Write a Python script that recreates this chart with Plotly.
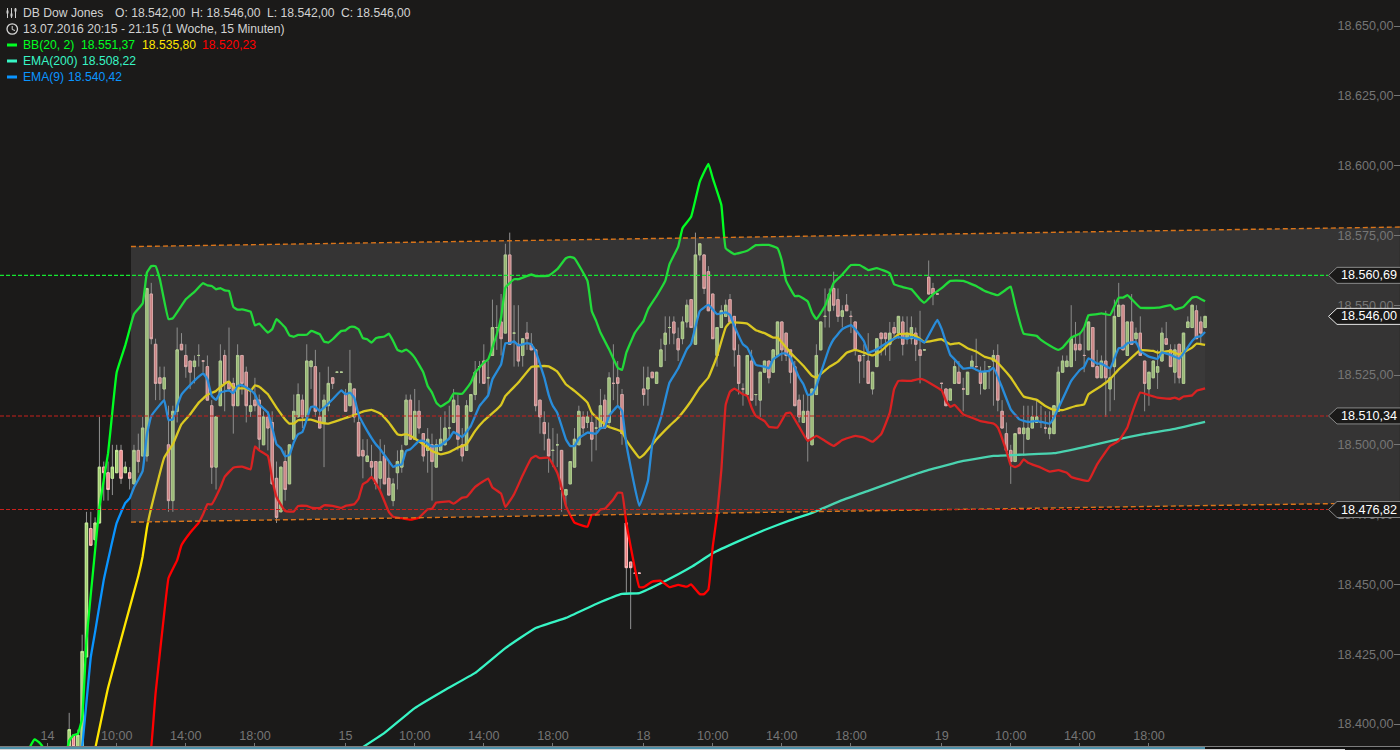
import plotly.graph_objects as go

BG = "#1b1a19"
W, H = 1400, 750

bars = list(range(5, 269))
open_ = [
18392,18396,18392,18392,18424,18470,18466,18472,18492,18490,
18488,18490,18498,18490,18490,18486,18498,18496,18496,18554,
18536,18524,18520,18500,18480,18512,18536,18532,18530,18528,
18532,18530,18528,18514,18492,18514,18532,18522,18522,18514,
18532,18526,18512,18516,18516,18500,18510,18508,18488,18476,
18494,18486,18502,18510,18516,18510,18528,18528,18510,18508,
18514,18524,18526,18526,18518,18514,18520,18508,18498,18494,
18494,18494,18488,18496,18488,18480,18490,18492,18500,18516,
18502,18512,18504,18498,18500,18492,18498,18500,18506,18508,
18514,18500,18498,18512,18518,18528,18530,18524,18532,18542,
18544,18540,18568,18540,18536,18532,18540,18536,18534,18516,
18508,18502,18498,18500,18498,18482,18486,18492,18500,18510,
18508,18508,18506,18506,18516,18508,18522,18524,18518,18472,
18458,18454,18454,18520,18520,18526,18522,18528,18536,18542,
18544,18538,18538,18544,18552,18536,18568,18568,18562,18554,
18532,18542,18546,18552,18546,18532,18520,18518,18530,18518,
18516,18526,18530,18526,18532,18544,18540,18534,18528,18516,
18508,18512,18500,18518,18534,18546,18548,18556,18552,18546,
18550,18546,18544,18532,18532,18530,18520,18528,18540,18540,
18536,18542,18540,18544,18538,18538,18540,18534,18534,18560,
18556,18554,18522,18520,18516,18522,18526,18520,18518,18528,
18528,18526,18520,18528,18530,18532,18512,18504,18498,18494,
18506,18504,18502,18506,18508,18508,18506,18504,18504,18512,
18526,18528,18528,18536,18536,18532,18534,18542,18528,18524,
18530,18520,18528,18546,18550,18532,18544,18538,18540,18530,
18520,18524,18526,18530,18538,18534,18526,18536,18522,18542,
18542,18548,18544,18542]
high = [
18404,18396,18398,18432,18476,18476,18474,18510,18494,18494,
18500,18500,18500,18494,18492,18500,18504,18510,18556,18558,
18538,18528,18528,18514,18514,18542,18540,18536,18530,18532,
18536,18530,18532,18516,18510,18536,18534,18542,18524,18536,
18532,18528,18520,18524,18518,18512,18512,18512,18494,18492,
18498,18500,18518,18522,18518,18536,18530,18534,18526,18518,
18528,18524,18526,18526,18520,18534,18520,18512,18502,18502,
18500,18494,18502,18500,18494,18488,18498,18500,18518,18518,
18520,18516,18504,18506,18504,18502,18510,18512,18514,18520,
18518,18506,18516,18518,18530,18530,18536,18530,18552,18550,
18554,18572,18576,18550,18550,18538,18544,18540,18534,18516,
18512,18508,18506,18504,18498,18484,18494,18506,18514,18512,
18512,18512,18510,18520,18518,18526,18536,18530,18520,18472,
18458,18454,18454,18528,18528,18526,18526,18538,18546,18546,
18546,18542,18546,18552,18552,18576,18572,18568,18564,18554,
18542,18550,18552,18554,18546,18536,18522,18532,18534,18518,
18526,18530,18530,18534,18544,18544,18540,18534,18530,18518,
18518,18518,18520,18536,18544,18556,18556,18562,18556,18550,
18554,18548,18544,18532,18536,18540,18526,18538,18540,18540,
18544,18544,18546,18546,18546,18546,18542,18548,18534,18566,
18558,18554,18522,18520,18520,18530,18530,18524,18526,18532,
18538,18528,18530,18528,18534,18536,18516,18508,18500,18504,
18506,18514,18514,18514,18516,18514,18512,18512,18514,18528,
18532,18532,18550,18544,18540,18542,18544,18542,18534,18532,
18548,18528,18552,18558,18550,18544,18554,18542,18546,18530,
18526,18530,18534,18542,18544,18536,18536,18536,18540,18546,
18550,18550,18546,18546]
low = [
18392,18392,18392,18392,18424,18464,18464,18472,18480,18480,
18482,18490,18486,18490,18484,18486,18490,18496,18494,18536,
18516,18516,18516,18476,18476,18508,18534,18524,18520,18522,
18528,18526,18516,18486,18484,18514,18512,18520,18504,18514,
18518,18508,18510,18512,18498,18500,18498,18486,18472,18476,
18480,18486,18502,18510,18506,18510,18520,18510,18506,18492,
18512,18520,18526,18526,18512,18514,18508,18496,18488,18494,
18488,18484,18484,18486,18482,18478,18484,18490,18500,18502,
18502,18504,18494,18490,18480,18492,18498,18500,18502,18508,
18498,18494,18498,18512,18516,18522,18522,18518,18532,18534,
18532,18540,18536,18528,18528,18528,18534,18534,18512,18504,
18498,18490,18492,18492,18476,18478,18486,18492,18500,18504,
18506,18494,18498,18506,18506,18506,18516,18514,18500,18447,
18434,18454,18454,18514,18514,18524,18522,18528,18530,18536,
18536,18530,18536,18542,18542,18536,18566,18554,18548,18538,
18528,18542,18546,18544,18528,18518,18514,18518,18516,18514,
18510,18526,18522,18526,18532,18530,18530,18522,18514,18508,
18508,18494,18500,18518,18534,18542,18542,18548,18544,18542,
18548,18540,18532,18522,18524,18522,18518,18528,18532,18532,
18530,18538,18538,18532,18536,18536,18530,18522,18534,18554,
18550,18554,18520,18514,18516,18522,18522,18512,18518,18528,
18528,18518,18520,18520,18514,18512,18506,18496,18486,18494,
18504,18496,18502,18506,18508,18506,18504,18502,18504,18512,
18526,18528,18528,18530,18534,18526,18534,18528,18524,18524,
18510,18512,18516,18546,18534,18532,18536,18536,18532,18512,
18514,18524,18520,18530,18536,18528,18522,18522,18522,18542,
18542,18538,18536,18542]
close = [
18398,18392,18396,18426,18472,18464,18472,18492,18490,18484,
18492,18498,18488,18492,18488,18498,18494,18506,18556,18538,
18522,18522,18524,18480,18512,18534,18534,18528,18526,18530,
18532,18530,18516,18492,18510,18530,18522,18520,18514,18532,
18522,18514,18514,18514,18502,18510,18506,18486,18474,18492,
18484,18500,18512,18518,18510,18530,18530,18512,18506,18516,
18522,18522,18526,18526,18512,18522,18510,18496,18496,18496,
18492,18486,18494,18486,18482,18486,18494,18498,18516,18502,
18512,18506,18496,18502,18494,18500,18502,18506,18506,18516,
18502,18496,18514,18518,18526,18528,18522,18524,18542,18542,
18538,18568,18536,18540,18530,18538,18538,18534,18514,18510,
18504,18496,18498,18500,18484,18484,18494,18502,18512,18506,
18510,18502,18506,18514,18506,18524,18522,18522,18504,18456,
18456,18454,18454,18518,18524,18524,18526,18534,18540,18542,
18540,18534,18544,18550,18542,18568,18572,18556,18548,18538,
18542,18548,18550,18544,18534,18522,18520,18532,18516,18518,
18526,18530,18524,18534,18544,18534,18532,18526,18514,18510,
18512,18502,18520,18532,18544,18546,18554,18550,18546,18548,
18548,18546,18534,18530,18532,18522,18526,18538,18538,18538,
18540,18540,18546,18536,18540,18542,18536,18532,18534,18554,
18554,18554,18522,18514,18520,18528,18522,18520,18526,18530,
18528,18522,18526,18528,18532,18516,18506,18498,18494,18504,
18504,18506,18506,18510,18510,18508,18506,18506,18514,18526,
18530,18530,18538,18534,18534,18532,18544,18528,18524,18530,
18524,18524,18546,18550,18534,18544,18536,18540,18532,18522,
18526,18530,18528,18540,18536,18528,18534,18524,18540,18544,
18550,18538,18540,18546]

ema200_bars = [72,78,85,92,99,106,113,120,127,133,137,143,149,154,160,166,172,177,184,190,197,204,212,219,226,233,240,247,254,261,268]
ema200_vals = [18390.7,18396.8,18405.7,18412.2,18418.3,18427.2,18434.4,18438,18443,18446.6,18446.9,18451.2,18456.2,18461.2,18465.5,18469.5,18473,18475.6,18480.2,18483.5,18487.4,18491,18494.2,18496,18496.5,18497,18499.2,18501.7,18503.9,18505.7,18508.2]

ema9_bars = [7,8,10,11,13,16,18,19,20,22,23,24,26,27,28,29,30,31,33,35,36,37,38,39,40,42,43,44,45,47,48,49,51,52,53,54,55,56,57,58,59,60,61,62,63,64,66,68,69,70,71,72,74,76,77,79,80,81,
82,83,84,86,87,89,91,93,94,96,98,100,102,103,105,106,107,108,109,111,112,113,115,116,117,118,120,121,122,123,125,127,128,129,130,132,133,134,137,139,140,142,144,
146,148,149,151,153,155,157,158,159,161,162,164,166,167,168,170,171,172,174,175,176,177,178,181,182,184,186,187,189,190,192,195,197,199,200,202,203,206,
207,209,210,212,214,216,218,219,221,223,225,227,229,232,233,237,239,240,241,243,244,246,248,249,250,252,253,255,257,258,260,262,265,266,267,268]
ema9_vals = [18385,18392,18424,18433,18451.6,18472,18479.2,18480.8,18484.7,18490.6,18503.8,18510.3,18514.3,18516,18508.9,18509.1,18513.9,18518,18521.4,18524.4,18525.6,18523.5,18517.5,18516.1,18518.7,18519.5,18518.5,18521.1,18521.4,18519.6,18518.1,18514.5,18511.5,18506.2,18500.2,18498.8,18495.9,18496.4,18500.8,18503.8,18504.6,18509.1,18513.6,18513.6,18512.1,18513.3,18516.3,18519.5,18518.1,18518.7,18516.9,18510.9,18505,18500.2,18498.4,18494.2,18492.1,18492.7,
18493,18497.8,18498.4,18501.4,18501.4,18499.4,18499.8,18502.3,18504.6,18502.8,18506.8,18513.9,18517.7,18523.5,18528.8,18536.4,18536.4,18537,18535.6,18536.4,18536,18533.4,18524.1,18518,18513.9,18511.5,18502,18499.6,18499.6,18502.3,18504.4,18504,18505.9,18506.2,18510.3,18513.9,18512.1,18500.2,18478.1,18487.1,18500.2,18509.7,18522.3,
18527.3,18534.2,18536.2,18547.9,18550.1,18546.8,18547.4,18546.5,18542.6,18536,18534.8,18528.6,18528,18527.4,18530.6,18532.7,18532.7,18531.2,18524.1,18521.7,18517.9,18518.1,18521.1,18534.8,18537.8,18541.4,18542.9,18541.4,18537.2,18533,18534.2,18537.2,18538.6,18538,18538.6,18537.6,18536.6,18544.7,
18541.5,18532.2,18530.6,18527.3,18527.6,18526.2,18526.5,18527.6,18520.5,18512.7,18509.1,18508.2,18508.6,18507.6,18509.7,18522.9,18526.8,18527.9,18531,18529.1,18529.1,18527.4,18534.6,18534.8,18536.4,18536.8,18533.6,18531.6,18530.8,18533.1,18532.2,18530.9,18537.2,18538.6,18538.9,18540.4]

bb_up_bars = [-5,-4,-3,-2,-1,0,4,5,6,7,8,9,11,12,14,15,16,18,19,20,22,23,24,25,26,28,29,32,34,36,37,38,39,40,41,42,43,44,45,47,48,49,51,52,53,55,56,57,58,60,61,63,64,65,66,68,69,70,71,72,73,74,75,76,78,79,80,81,
82,83,84,85,87,88,89,90,91,93,94,96,98,99,101,102,104,105,106,108,109,112,113,116,118,120,121,122,125,126,127,128,130,132,133,134,136,138,139,141,143,144,146,147,149,151,153,154,156,157,159,162,164,167,169,170,171,173,174,176,177,178,180,182,184,186,188,190,192,195,196,198,200,202,203,205,
207,209,212,215,217,220,222,223,224,226,229,230,232,234,235,237,239,240,241,243,244,246,248,249,250,253,257,260,261,263,265,266,268]
bb_up_vals = [18388,18392,18394.5,18393.5,18391.5,18388,18388,18394,18396,18396.5,18402,18430,18462.3,18477.7,18497,18512,18526,18535.7,18541.4,18546.8,18550.6,18561.7,18564,18564,18559.3,18545,18545.3,18552.1,18554.8,18557.9,18557.1,18556.9,18555.7,18556.1,18555.3,18555.1,18549.4,18548.4,18548.5,18547.7,18542.8,18543.4,18540.2,18541.4,18545,18542,18539.2,18538.7,18539.4,18539.4,18540.8,18539.6,18537,18536.6,18537.8,18540.8,18541,18542.2,18542.2,18541.4,18538.2,18537.8,18536.6,18538.2,18538.8,18539.8,18537.2,18534,
18533.4,18534.1,18533,18531.2,18525.9,18521.1,18518.7,18515.1,18513.7,18515.7,18518.4,18518.3,18522.3,18525.9,18529.4,18530.6,18539.6,18545.6,18556.3,18559.3,18559.3,18561,18560.4,18560.6,18562.9,18566.8,18567.3,18566.8,18558.7,18547.9,18544.4,18540.2,18534.2,18527.6,18526.8,18533,18540.2,18544.4,18548.5,18553.3,18558.7,18564.7,18571,18577.6,18581.7,18594.2,18600.6,18595.5,18585.9,18570.4,18568.3,18569.5,18571.5,18571.6,18570.4,18566,18558.7,18553.3,18553.3,18551.3,18547.3,18545,18549.7,18558,18561,18564.4,18564.4,18562.6,18563.3,18561.4,18557.5,18556.5,18555.7,18552.1,18550.9,18553.9,
18556.1,18558.7,18558.7,18556.9,18555.1,18553.6,18555.7,18556.7,18550.3,18539.8,18539,18537.6,18535.6,18534,18534.8,18538.4,18539.8,18542,18546.4,18546.8,18547.1,18546.5,18552.7,18552.7,18553.6,18549.1,18549.1,18550,18548.5,18549.4,18552.7,18553,18551.4]

bb_mid_bars = [11,14,18,21,22,23,24,27,29,31,33,35,37,39,41,42,43,44,46,47,48,49,51,53,55,56,57,58,61,63,65,68,71,73,75,77,79,81,
82,83,85,87,89,91,93,95,97,99,101,104,105,106,109,112,113,116,118,120,122,125,126,128,130,133,134,137,138,141,144,146,149,151,153,155,157,158,162,164,166,168,169,172,175,177,178,181,183,185,187,189,191,193,195,197,199,201,203,
207,209,211,213,215,217,219,221,223,226,229,231,233,235,238,240,241,244,246,248,250,253,256,257,260,262,265,266,268]
bb_mid_vals = [18391,18413,18436,18453,18460,18470.3,18477.5,18495.4,18500.2,18507.4,18510.9,18515.1,18517.9,18519.3,18521.9,18522.6,18520.5,18520.2,18520.2,18519.3,18521.3,18520.8,18518.1,18513.3,18509.1,18507.6,18507.6,18508.8,18509,18508,18507.6,18509.1,18510.6,18511.9,18512.5,18511.2,18508,18503.8,
18503.5,18503.8,18502.3,18500.2,18497.8,18496.6,18497.4,18499,18500.2,18505,18508.6,18512.7,18514.3,18517.5,18522.3,18527.9,18528.1,18528.1,18526.2,18521.7,18519.3,18515.1,18511.5,18508.6,18506.4,18504.7,18501.6,18495.4,18496.4,18502,18506.8,18509.7,18515.7,18520.5,18524.1,18531.8,18542,18543.8,18543.4,18541,18540,18538.4,18538.4,18533,18528.3,18524.7,18524.1,18527.9,18529.8,18533,18534,18533,18532,18533.6,18536.6,18539.6,18539.8,18539,18536.8,
18537.8,18536,18536.4,18534.6,18533.4,18531.5,18530.6,18527.7,18524.1,18517.3,18516.1,18513.9,18512.5,18512.4,18513.9,18514.5,18518.1,18521.1,18523.5,18527,18529.8,18533.9,18533.6,18533,18533.6,18532.4,18534.8,18536.2,18535.8]

bb_lo_bars = [23,24,25,27,28,30,31,33,35,36,37,38,40,41,43,45,47,48,49,51,52,53,55,57,58,60,61,63,64,66,68,69,71,72,73,74,75,77,79,80,81,
82,84,86,88,89,90,93,94,96,97,99,102,103,105,106,108,110,112,113,114,116,118,119,120,122,125,126,127,128,129,131,132,133,134,137,138,140,142,144,146,148,149,151,152,153,154,155,156,157,158,159,161,162,163,164,166,167,169,171,172,174,176,178,180,182,184,187,189,191,193,195,196,197,200,202,203,
207,208,209,210,212,215,216,219,220,222,223,224,225,226,227,230,232,234,236,237,241,243,246,248,250,251,253,255,257,260,261,262,263,265,266,268]
bb_lo_vals = [18385,18391.9,18411,18439.6,18452.3,18458.7,18464,18468.5,18472.1,18475.1,18478.7,18478.7,18484.7,18488.5,18491.8,18492.2,18491.2,18499.4,18498,18496,18487.7,18481.3,18476.3,18476.1,18478.1,18478.1,18477.5,18477.3,18478.3,18478.1,18477.4,18478.1,18478.7,18480.7,18485.9,18486.8,18488.5,18483.5,18476,18474.2,18473.9,
18473.7,18473.2,18473.9,18476.9,18477.1,18479.3,18479.7,18478.9,18481.1,18481.3,18484.9,18487.9,18484.7,18482.5,18477.7,18482.3,18489.1,18495.2,18496,18495.2,18495.4,18490,18484.7,18478.1,18472.1,18470.7,18474.9,18475.1,18476.8,18477.1,18480.5,18482.8,18482.8,18472,18449,18449,18451,18451.3,18449,18449.8,18449.2,18450,18446.5,18446.5,18448.2,18463.5,18474.9,18491,18514.3,18519,18520.1,18518.1,18517.5,18513.3,18510.3,18508.5,18506.5,18506.2,18511.3,18511.5,18506.5,18501.4,18503.2,18501.4,18499.6,18501.7,18503.2,18502.6,18501.1,18503.8,18511.5,18519.9,18522.9,18522.9,18523.6,18523.2,
18519.5,18515.7,18513.6,18514.3,18510.9,18509.1,18508.5,18507.6,18506.2,18497.8,18492.7,18492,18492.7,18494.8,18493.6,18491.8,18490.4,18490.9,18490,18488.5,18487.1,18493,18499.6,18501.4,18506.2,18511,18518.7,18517.8,18516.9,18516.5,18516.9,18516.3,18517.3,18517.7,18519.3,18520.2]

x_ticks = [0,16,32,48,69,85,101,117,138,154,170,186,207,223,239,255]
x_labels = ["14","10:00","14:00","18:00","15","10:00","14:00","18:00","18","10:00","14:00","18:00","19","10:00","14:00","18:00"]
y_ticks = [18400,18425,18450,18475,18500,18525,18550,18575,18600,18625,18650]
y_labels = ["18.400,00","18.425,00","18.450,00","18.475,00","18.500,00","18.525,00","18.550,00","18.575,00","18.600,00","18.625,00","18.650,00"]
level_green = 18560.69
level_red_a = 18510.34
level_red_b = 18476.82
level_last = 18546.00
chan_bars = [19.3, 313.1]
chan_top = [18571.0, 18578.0]
chan_bot = [18472.3, 18479.3]

X0, SPAN = 47.6, 4.319
x_range = [(0 - X0) / SPAN, (W - X0) / SPAN]
y_top = 18400 + 724 / 2.792
y_bot = 18400 - 26 / 2.792

fig = go.Figure()

# Bollinger band fill
fig.add_trace(go.Scatter(x=bb_up_bars, y=bb_up_vals, mode="lines", line=dict(width=0), showlegend=False, hoverinfo="skip"))
fig.add_trace(go.Scatter(x=bb_lo_bars, y=bb_lo_vals, mode="lines", line=dict(width=0), fill="tonexty",
                         fillcolor="rgba(255,255,255,0.03)", showlegend=False, hoverinfo="skip"))

# wicks
fig.add_trace(go.Candlestick(x=bars, open=open_, high=high, low=low, close=close, whiskerwidth=0,
    increasing=dict(line=dict(color="#929292", width=1), fillcolor="#929292"),
    decreasing=dict(line=dict(color="#929292", width=1), fillcolor="#929292"), showlegend=False, hoverinfo="skip"))
# bodies
body_hi = [max(a, b) for a, b in zip(open_, close)]
body_lo = [min(a, b) for a, b in zip(open_, close)]
fig.add_trace(go.Candlestick(x=bars, open=open_, high=body_hi, low=body_lo, close=close, whiskerwidth=0,
    increasing=dict(line=dict(color="#c4ec94", width=1), fillcolor="#a0cc70"),
    decreasing=dict(line=dict(color="#ffb8b8", width=1), fillcolor="#e88080"), showlegend=False, hoverinfo="skip"))

for xs, ys, col in [(ema200_bars, ema200_vals, "#38f5c5"),
                    (bb_lo_bars, bb_lo_vals, "#ff0000"),
                    (bb_mid_bars, bb_mid_vals, "#ffe600"),
                    (bb_up_bars, bb_up_vals, "#00ff22"),
                    (ema9_bars, ema9_vals, "#0a94ff")]:
    fig.add_trace(go.Scatter(x=xs, y=ys, mode="lines", line=dict(color=col, width=2.3, shape="spline", smoothing=0.3),
                             showlegend=False, hoverinfo="skip"))

def px(x):
    return x / W

def py(y):
    return 1 - y / H

def price_y(v):
    return 724 - (v - 18400) * 2.792

shapes = []
# channel
shapes.append(dict(type="path", layer="above", xref="x", yref="y",
    path=f"M{chan_bars[0]},{chan_top[0]} L{chan_bars[1]},{chan_top[1]} L{chan_bars[1]},{chan_bot[1]} L{chan_bars[0]},{chan_bot[0]} Z",
    fillcolor="rgba(122,122,122,0.28)", line=dict(width=0)))
for ys in (chan_top, chan_bot):
    shapes.append(dict(type="line", layer="above", xref="x", yref="y", x0=chan_bars[0], x1=chan_bars[1], y0=ys[0], y1=ys[1],
                       line=dict(color="#d9741a", width=1.4, dash="5px,3px")))
# levels
for lv, col, lw in [(level_green, "#14e830", 1.4), (level_red_a, "#c8201c", 1.1), (level_red_b, "#c8201c", 1.1)]:
    shapes.append(dict(type="line", layer="above", xref="paper", yref="y", x0=0, x1=px(1328), y0=lv, y1=lv,
                       line=dict(color=col, width=lw, dash="4px,2px")))
# badges
anns = []
font = "Liberation Sans"
for lv, txt, edge in [(level_green, "18.560,69", "#888888"), (level_last, "18.546,00", "#e8e8e8"),
                      (level_red_a, "18.510,34", "#888888"), (level_red_b, "18.476,82", "#888888")]:
    yc = price_y(lv)
    p = (f"M{px(1400)},{py(yc-8)} L{px(1337)},{py(yc-8)} L{px(1328.5)},{py(yc)} "
         f"L{px(1337)},{py(yc+8)} L{px(1400)},{py(yc+8)}")
    shapes.append(dict(type="path", layer="above", xref="paper", yref="paper", path=p, fillcolor=BG, line=dict(color=edge, width=1)))
    anns.append(dict(x=px(1339), y=py(yc), xref="paper", yref="paper", xanchor="left", yanchor="middle", text=txt,
                     showarrow=False, font=dict(family=font, size=12.6, color="#ffffff")))

# legend swatches
for yc, col in [(45, "#00ff22"), (61, "#38f5c5"), (77, "#0a94ff")]:
    shapes.append(dict(type="rect", layer="above", xref="paper", yref="paper", x0=px(7), x1=px(17), y0=py(yc-1.5), y1=py(yc+1.5),
                       fillcolor=col, line=dict(width=0)))
# icons
for xc, yb in [(7.5, 12), (11.5, 15), (15.5, 10)]:
    shapes.append(dict(type="line", layer="above", xref="paper", yref="paper", x0=px(xc), x1=px(xc), y0=py(8), y1=py(18),
                       line=dict(color="#cfcfcf", width=1)))
    shapes.append(dict(type="rect", layer="above", xref="paper", yref="paper", x0=px(xc-1), x1=px(xc+1), y0=py(yb-1.5), y1=py(yb+1.5),
                       fillcolor="#cfcfcf", line=dict(width=0)))
shapes.append(dict(type="circle", layer="above", xref="paper", yref="paper", x0=px(7), x1=px(17.5), y0=py(34.2), y1=py(23.8),
                   line=dict(color="#d8d8d8", width=1.3)))
shapes.append(dict(type="path", layer="above", xref="paper", yref="paper",
                   path=f"M{px(12.2)},{py(26)} L{px(12.2)},{py(29.5)} L{px(15)},{py(30.5)}", line=dict(color="#d8d8d8", width=1)))
# bottom strip
shapes.append(dict(type="rect", layer="above", xref="paper", yref="paper", x0=0, x1=1, y0=py(747), y1=py(746), fillcolor="#7d7d7d", line=dict(width=0)))
shapes.append(dict(type="rect", layer="above", xref="paper", yref="paper", x0=0, x1=px(1205), y0=py(749), y1=py(747), fillcolor="#4d8fa8", line=dict(width=0)))
shapes.append(dict(type="rect", layer="above", xref="paper", yref="paper", x0=px(1205), x1=1, y0=py(749), y1=py(747), fillcolor="#101010", line=dict(width=0)))
shapes.append(dict(type="rect", layer="above", xref="paper", yref="paper", x0=0, x1=px(1345), y0=py(750), y1=py(749), fillcolor="#d8d8d8", line=dict(width=0)))

HC = "#d2d2d2"
for xx, yy, txt, col in [
    (23, 13, "DB Dow Jones", HC), (115, 13, "O: 18.542,00", HC), (190.5, 13, "H: 18.546,00", HC),
    (266.5, 13, "L: 18.542,00", HC), (340.5, 13, "C: 18.546,00", HC),
    (23, 29, "13.07.2016 20:15 - 21:15 (1 Woche, 15 Minuten)", HC),
    (23, 45, "BB(20, 2)", "#00ff22"), (81, 45, "18.551,37", "#00ff22"), (142, 45, "18.535,80", "#ffe600"), (202, 45, "18.520,23", "#ff0000"),
    (23, 61, "EMA(200)", "#38f5c5"), (82, 61, "18.508,22", "#38f5c5"),
    (23, 77, "EMA(9)", "#0a94ff"), (68, 77, "18.540,42", "#0a94ff")]:
    anns.append(dict(x=px(xx), y=py(yy), xref="paper", yref="paper", xanchor="left", yanchor="middle", xshift=-2, text=txt,
                     showarrow=False, font=dict(family=font, size=12.15, color=col)))

fig.update_layout(
    width=W, height=H, margin=dict(l=0, r=0, t=0, b=0), paper_bgcolor=BG, plot_bgcolor=BG, showlegend=False,
    shapes=shapes, annotations=anns, boxgap=0.22, boxmode="overlay",
    font=dict(family=font, size=12, color="#757575"),
    xaxis=dict(range=x_range, tickmode="array", tickvals=x_ticks, ticktext=x_labels, showgrid=False, zeroline=False,
               rangeslider=dict(visible=False), ticks="inside", ticklen=7, tickcolor="#757575", ticklabelposition="inside",
               tickfont=dict(family=font, size=12.6, color="#757575"), showline=False),
    yaxis=dict(range=[y_bot, y_top], side="right", tickmode="array", tickvals=y_ticks, ticktext=y_labels, showgrid=False, zeroline=False,
               ticks="inside", ticklen=6, tickcolor="#757575", ticklabelposition="inside",
               tickfont=dict(family=font, size=12.6, color="#757575"), showline=False),
)
fig.write_html("out.html", config={"displayModeBar": False},
               post_script="document.body.style.margin='0';document.body.style.background='#1b1a19';")
